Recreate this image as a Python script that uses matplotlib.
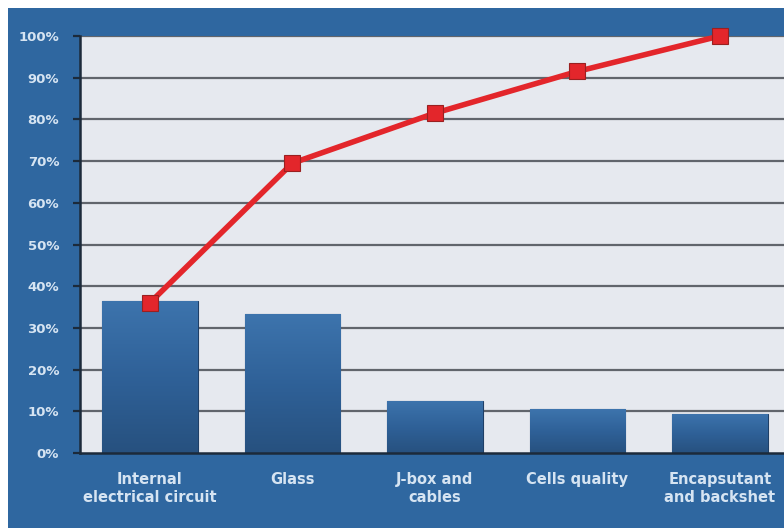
import numpy as np
import matplotlib
matplotlib.use("Agg")
import matplotlib.pyplot as plt
from matplotlib.patches import Rectangle

categories = ["Internal\nelectrical circuit", "Glass", "J-box and\ncables", "Cells quality", "Encapsutant\nand backshet"]
share = [36.5, 33.3, 12.5, 10.5, 9.4]
cumulative = [36.0, 69.5, 81.5, 91.5, 100.0]
yticks = [0, 10, 20, 30, 40, 50, 60, 70, 80, 90, 100]
ytick_labels = [f"{v}%" for v in yticks]

BG = "#2f67a0"
PLOT_BG = "#e6e9ef"
TXT = "#d6e4f2"

fig = plt.figure(figsize=(7.84, 5.28), dpi=100)
fig.patch.set_facecolor("white")
fig.add_artist(Rectangle((8/784, 0), 1, 1 - 8/528, transform=fig.transFigure,
                         facecolor=BG, edgecolor="none", zorder=-10))

ax = fig.add_axes([80/784, 1 - 453/528, 1 - 80/784, (453 - 36)/528])
ax.set_facecolor(PLOT_BG)
x = np.arange(len(categories))

for v in yticks[1:]:
    ax.axhline(v, color="#61656c", lw=1.6, zorder=1)

bars = ax.bar(x, share, width=0.67, color="#32659c", edgecolor="#1f3f66", linewidth=0.8, zorder=2)
grad = np.linspace(0, 1, 256).reshape(-1, 1)
cmap = matplotlib.colors.LinearSegmentedColormap.from_list("g", ["#27517f", "#2f6198", "#3d74ad"])
for b in bars:
    bx, by = b.get_x(), b.get_y()
    w, h = b.get_width(), b.get_height()
    im = ax.imshow(grad, extent=(bx, bx + w, by, by + h), origin="lower", aspect="auto",
                   cmap=cmap, zorder=2.5)
    im.set_clip_path(b)
ax.set_xlim(-0.49, 4.45)
ax.set_ylim(0, 100)

ax.plot(x, cumulative, color="#e3262b", lw=4, zorder=4, clip_on=False,
        marker="s", markersize=12, markerfacecolor="#e3262b", markeredgecolor="#9a2020",
        markeredgewidth=0.8)

for s in ["top", "right"]:
    ax.spines[s].set_visible(False)
for s in ["left", "bottom"]:
    ax.spines[s].set_color("#1c2a3a")
    ax.spines[s].set_linewidth(1.8)

ax.set_yticks(yticks)
ax.set_yticklabels(ytick_labels, fontfamily="DejaVu Sans", fontweight="bold", fontsize=9.5, color=TXT)
ax.tick_params(axis="y", length=5, width=1.6, color="#1c2a3a", pad=10)
ax.set_xticks(x)
ax.set_xticklabels(categories, fontfamily="DejaVu Sans", fontweight="bold", fontsize=10.5, color=TXT,
                   linespacing=1.2)
ax.tick_params(axis="x", length=0, pad=14)

fig.savefig("out.png", dpi=100, facecolor=fig.get_facecolor())
